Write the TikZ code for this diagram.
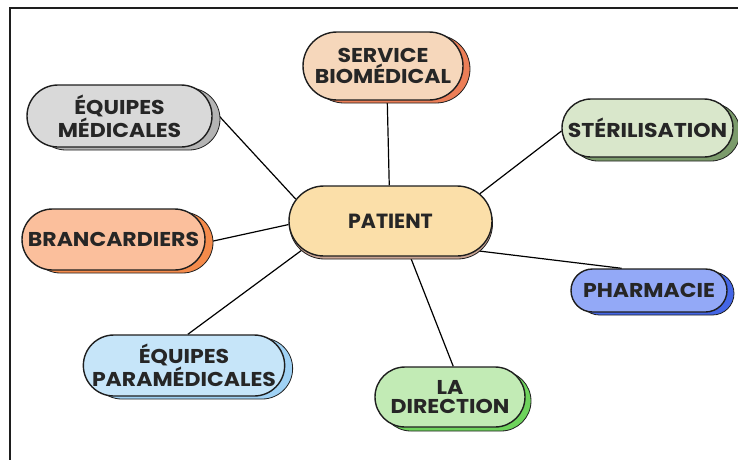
\documentclass[tikz,border=0pt]{standalone}
\usepackage{fontspec}
\setmainfont{Poppins}
\newfontfamily\labelfont{Poppins}[FakeStretch=1.1]
\usetikzlibrary{shapes.misc,shadows,backgrounds}

\definecolor{ink}{HTML}{262626}
\definecolor{edge}{HTML}{1E1E1E}
\definecolor{patfill}{HTML}{FBDFA9}
\definecolor{patsh}{HTML}{C9A493}
\definecolor{srvfill}{HTML}{F6D7BB}
\definecolor{srvsh}{HTML}{EC7E57}
\definecolor{emfill}{HTML}{D9D9D9}
\definecolor{emsh}{HTML}{B4B4B4}
\definecolor{sterfill}{HTML}{D9E7CB}
\definecolor{stersh}{HTML}{7B9B6B}
\definecolor{branfill}{HTML}{FBBF9C}
\definecolor{bransh}{HTML}{F58B4B}
\definecolor{pharmfill}{HTML}{93A9F7}
\definecolor{pharmsh}{HTML}{4466E6}
\definecolor{parafill}{HTML}{C6E5F9}
\definecolor{parash}{HTML}{A0D2F5}
\definecolor{dirfill}{HTML}{C2EBB5}
\definecolor{dirsh}{HTML}{6ED35C}

\tikzset{
  bubble/.style={rounded rectangle, draw=edge, line width=1.4pt, inner sep=0pt,
    align=center, text=ink, font=\labelfont\bfseries\fontsize{20}{19}\selectfont},
  lift/.style n args={3}{general shadow={fill=#1, draw=edge, line width=0.8pt,
    shadow xshift=#2, shadow yshift=#3}},
  link/.style={draw=black, line width=1.2pt},
  frame/.style={draw=edge, line width=2pt},
}

\begin{document}
\begin{tikzpicture}[x=1pt,y=-1pt]
\useasboundingbox (0,0) rectangle (738,459);

% outer frame (top and left edges)
\draw[frame] (10,460) -- (10,8) -- (739,8);

% central node
\node[bubble, fill=patfill, lift={patsh}{0.5pt}{-3pt},
      minimum width=203pt, minimum height=70pt,
      font=\bfseries\fontsize{20.5}{20.5}\selectfont] (pat) at (390.5,221) {PATIENT};

% surrounding services
\node[bubble, fill=srvfill, lift={srvsh}{7pt}{-3pt},
      minimum width=160pt, minimum height=68pt] (srv) at (383,66)
      {SERVICE\\BIOMÉDICAL};
\node[bubble, fill=emfill, lift={emsh}{8pt}{-3pt},
      minimum width=185pt, minimum height=62pt] (em) at (119.5,116)
      {ÉQUIPES\\MÉDICALES};
\node[bubble, fill=sterfill, lift={stersh}{7pt}{-4pt},
      minimum width=171pt, minimum height=58pt] (ster) at (647.5,128)
      {STÉRILISATION};
\node[bubble, fill=branfill, lift={bransh}{8pt}{-3pt},
      minimum width=183pt, minimum height=61pt] (bran) at (113.5,239.5)
      {BRANCARDIERS};
\node[bubble, fill=pharmfill, lift={pharmsh}{7pt}{-3pt},
      minimum width=156pt, minimum height=43pt] (pharm) at (649,290.5)
      {PHARMACIE};
\node[bubble, fill=parafill, lift={parash}{8pt}{-3pt},
      minimum width=196pt, minimum height=61pt] (para) at (184,365.5)
      {ÉQUIPES\\PARAMÉDICALES};
\node[bubble, fill=dirfill, lift={dirsh}{6pt}{-4pt},
      minimum width=150pt, minimum height=60pt] (dir) at (450,397)
      {LA\\DIRECTION};

% connectors, kept behind the bubbles
\begin{pgfonlayer}{background}
  \draw[link] (pat.92.5)  -- (srv.-83);
  \draw[link] (pat.167.8) -- (em.5);
  \draw[link] (pat.17.2)  -- (ster.182);
  \draw[link] (pat.182.3) -- (bran.-2);
  \draw[link] (pat.-19.5) -- (pharm.141.5);
  \draw[link] (pat.198.9) -- (para.83);
  \draw[link] (pat.-61)   -- (dir.84);
\end{pgfonlayer}
\end{tikzpicture}
\end{document}
